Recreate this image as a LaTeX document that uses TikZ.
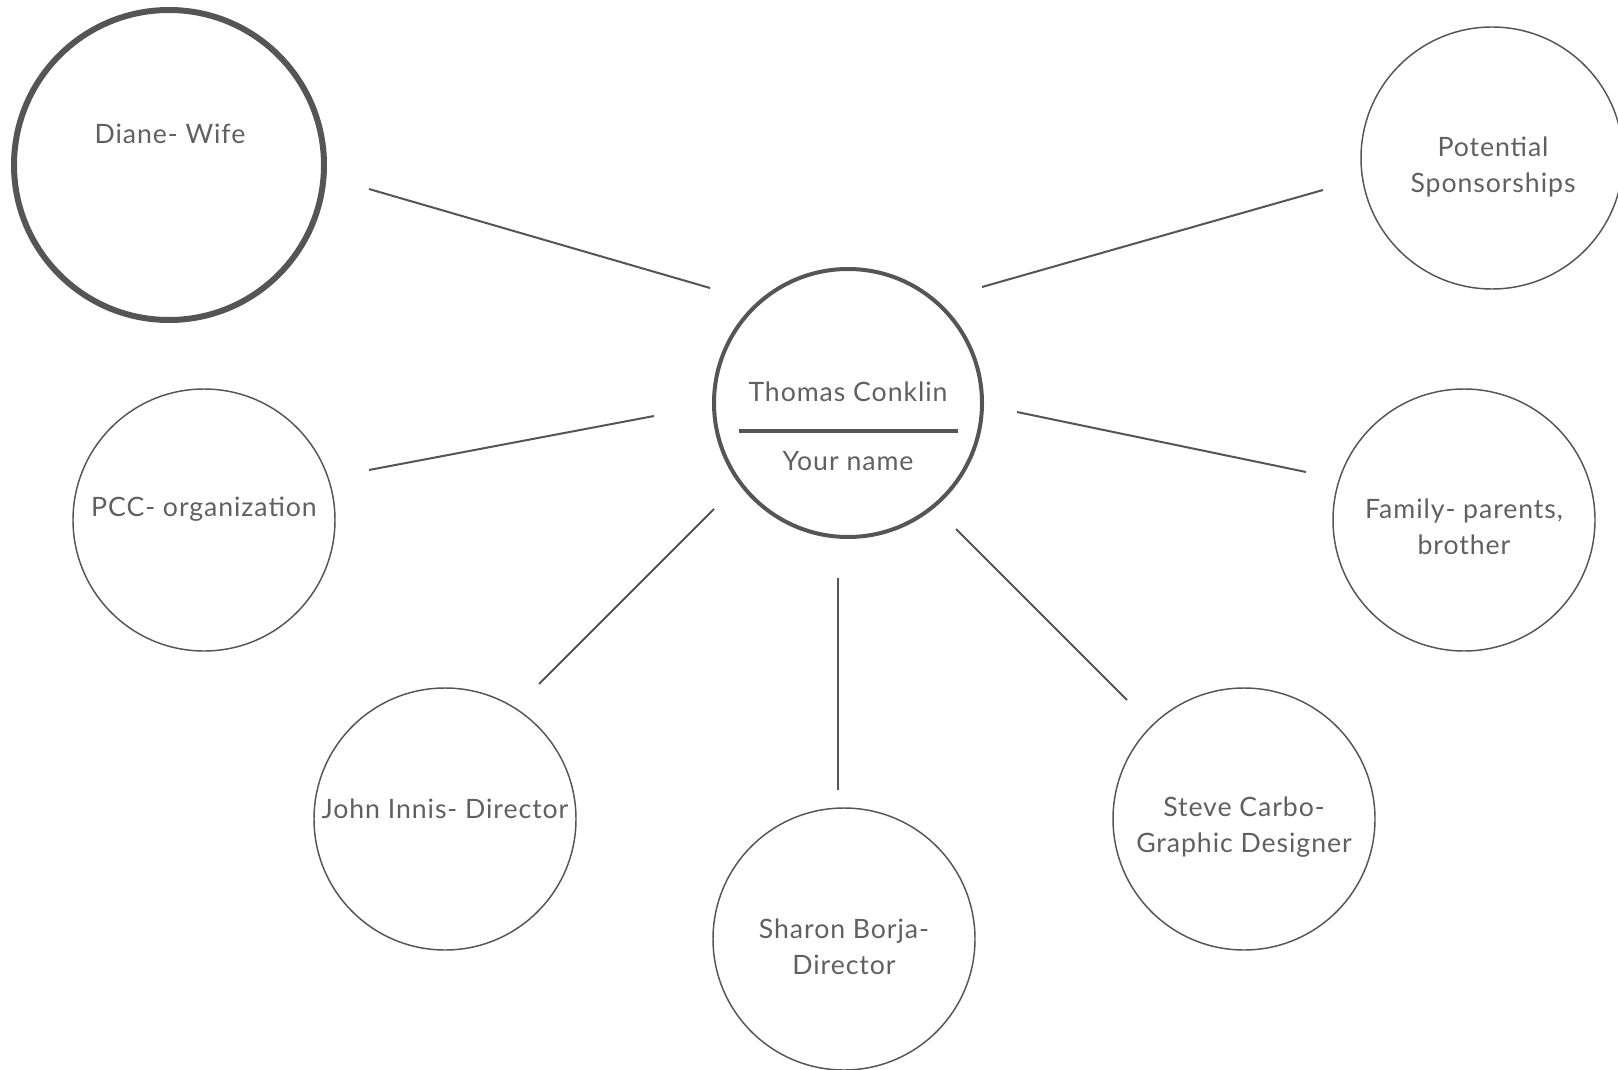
\documentclass[tikz,border=0pt]{standalone}
\usepackage{fontspec}
\setmainfont{Lato}[LetterSpace=3.5]
\definecolor{ln}{HTML}{555555}
\definecolor{tx}{HTML}{606060}
\begin{document}
\begin{tikzpicture}[x=0.75pt,y=-0.75pt,
  bub/.style={circle,draw=ln,line width=1.1pt,inner sep=0pt,minimum size=262*0.75pt},
  lbl/.style={text=tx,font=\fontsize{20}{27}\selectfont,align=center,inner sep=0pt},
  con/.style={draw=ln,line width=1.5pt}]
\useasboundingbox (0,0) rectangle (1618,1070);
% circles
\node[bub,line width=3pt,minimum size=268*0.75pt] (me) at (848,403) {};
\node[bub,line width=4.5pt,minimum size=310*0.75pt] (diane) at (169,165) {};
\node[bub] (spons) at (1492,158) {};
\node[bub] (pcc) at (204,520) {};
\node[bub] (fam) at (1464,520) {};
\node[bub] (john) at (445,819) {};
\node[bub] (sharon) at (844,939) {};
\node[bub] (steve) at (1244,819) {};
% texts
\node[lbl] (t1) at (848,392) {Thomas Conklin};
\node[lbl] (t2) at (848,461) {Your name};
\draw[ln,line width=3pt] (739,431) -- (958,431);
\node[lbl] (tdiane) at (170,134) {Diane- Wife};
\node[lbl] (tspons) at (1493,167) {Potential\\Sponsorships};
\node[lbl] (tpcc) at (204,509) {PCC- organization};
\node[lbl] (tfam) at (1464,527) {Family- parents,\\brother};
\node[lbl] (tjohn) at (445,809) {John Innis- Director};
\node[lbl] (tsharon) at (844,947) {Sharon Borja-\\Director};
\node[lbl] (tsteve) at (1244,827) {Steve Carbo-\\Graphic Designer};
% connector end points
\coordinate (a1) at (369,189); \coordinate (a2) at (710,288);
\coordinate (b1) at (982,287); \coordinate (b2) at (1323,190);
\coordinate (c1) at (369,470); \coordinate (c2) at (654,416);
\coordinate (d1) at (1017,412); \coordinate (d2) at (1306,472);
\coordinate (e1) at (539,684); \coordinate (e2) at (714,509);
\coordinate (f1) at (838,578); \coordinate (f2) at (838,790);
\coordinate (g1) at (956,529); \coordinate (g2) at (1127,700);
\draw[con] (a1) -- (a2);
\draw[con] (b1) -- (b2);
\draw[con] (c1) -- (c2);
\draw[con] (d1) -- (d2);
\draw[con] (e1) -- (e2);
\draw[con] (f1) -- (f2);
\draw[con] (g1) -- (g2);
\end{tikzpicture}
\end{document}
